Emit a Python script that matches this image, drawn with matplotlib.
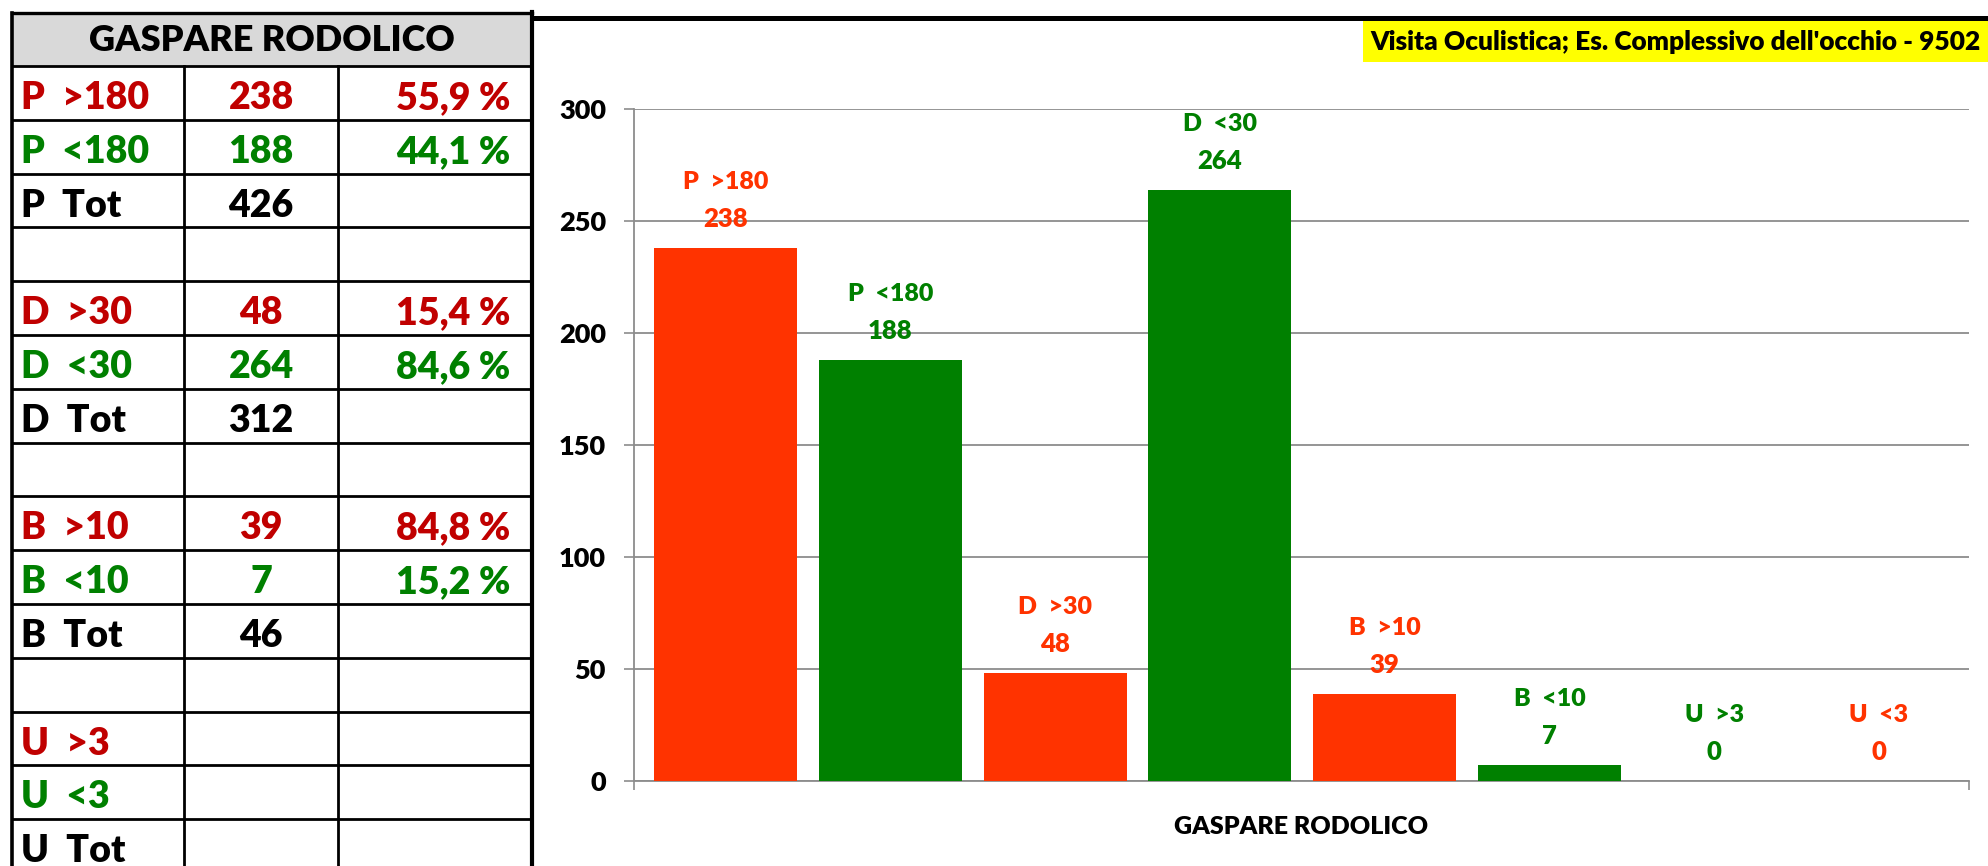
import matplotlib
matplotlib.use('Agg')
import matplotlib.pyplot as plt
from matplotlib.patches import Rectangle

plt.rcParams['font.family'] = ['Lato', 'DejaVu Sans']
plt.rcParams['font.weight'] = 'heavy'

W, H = 1988, 866
RED_T = '#C00000'
RED_B = '#FF3300'
GREEN = '#008000'
GRID = '#8C8C8C'

name = 'GASPARE RODOLICO'
title = "Visita Oculistica; Es. Complessivo dell'occhio - 9502"

# table on the left
row_labels = ['P  >180', 'P  <180', 'P  Tot', '', 'D  >30', 'D  <30', 'D  Tot', '',
              'B  >10', 'B  <10', 'B  Tot', '', 'U  >3', 'U  <3', 'U  Tot']
row_counts = ['238', '188', '426', '', '48', '264', '312', '', '39', '7', '46', '', '', '', '']
row_pcts = ['55,9 %', '44,1 %', '', '', '15,4 %', '84,6 %', '', '', '84,8 %', '15,2 %',
            '', '', '', '', '']
row_kind = ['hi', 'lo', 'tot', '', 'hi', 'lo', 'tot', '', 'hi', 'lo', 'tot', '', 'hi', 'lo', 'tot']

# bar chart
bar_labels = ['P  >180', 'P  <180', 'D  >30', 'D  <30', 'B  >10', 'B  <10', 'U  >3', 'U  <3']
bar_values = [238, 188, 48, 264, 39, 7, 0, 0]
bar_colors = [RED_B, GREEN, RED_B, GREEN, RED_B, GREEN, GREEN, RED_B]
y_ticks = [0, 50, 100, 150, 200, 250, 300]

kind_color = {'hi': RED_T, 'lo': GREEN, 'tot': 'black', '': 'black'}

fig = plt.figure(figsize=(W / 100, H / 100), dpi=100)

# overlay in pixel coords for the table and the frame
ov = fig.add_axes([0, 0, 1, 1])
ov.set_xlim(0, W)
ov.set_ylim(H, 0)
ov.axis('off')

x0, x1, x2, x3 = 12, 184, 338, 532
top, hdr_bot, rh = 13, 66, 53.8

ov.add_patch(Rectangle((x0, top), x3 - x0, hdr_bot - top, facecolor='#D9D9D9', edgecolor='none'))
ov.text((x0 + x3) / 2, (top + hdr_bot) / 2 + 1, name, ha='center', va='center', fontsize=26)

for i in range(len(row_labels) + 1):
    y = hdr_bot + rh * i
    ov.plot([x0, x3], [y, y], color='black', lw=2.0, solid_capstyle='butt')
ov.plot([x0, x3], [top, top], color='black', lw=2.4)
ov.plot([x0, x0], [top, H], color='black', lw=2.6)
ov.plot([x1, x1], [hdr_bot, H], color='black', lw=2.0)
ov.plot([x2, x2], [hdr_bot, H], color='black', lw=2.0)
ov.plot([x3, x3], [top - 1, H], color='black', lw=3.0)

for i, (lab, cnt, pct, kind) in enumerate(zip(row_labels, row_counts, row_pcts, row_kind)):
    yb = hdr_bot + rh * i + 43
    c = kind_color[kind]
    ov.text(x0 + 9, yb, lab, ha='left', va='baseline', fontsize=27, color=c)
    ov.text((x1 + x2) / 2, yb, cnt, ha='center', va='baseline', fontsize=27, color=c)
    ov.text(x3 - 22, yb, pct, ha='right', va='baseline', fontsize=27, color=c)

# chart frame and title box
ov.plot([x3, W], [17.5, 17.5], color='black', lw=3.6, solid_capstyle='butt')
ov.add_patch(Rectangle((1363, 21), W - 1363, 41, facecolor='#FFFF00', edgecolor='none'))
ov.text(1370, 42, title, ha='left', va='center', fontsize=18.9, color='black')

# the bars
ax = fig.add_axes([634 / W, 1 - 781 / H, (1969 - 634) / W, (781 - 109) / H])
xs = list(range(len(bar_values)))
ax.bar(xs, bar_values, width=0.868, color=bar_colors, zorder=3)
ax.set_xlim(-0.555, 7.546)
ax.set_ylim(0, 300)
ax.set_yticks(y_ticks)
ax.set_yticklabels([str(t) for t in y_ticks], fontsize=19.5)
ax.set_xticks([-0.555, 7.546])
ax.set_xticklabels(['', ''])
ax.tick_params(axis='y', length=7.2, width=1.2, color=GRID, pad=13)
ax.tick_params(axis='x', length=6.5, width=1.2, color=GRID)
ax.yaxis.grid(True, color=GRID, lw=1.3, zorder=0)
ax.set_axisbelow(True)
for s in ['top', 'right']:
    ax.spines[s].set_visible(False)
for s in ['left', 'bottom']:
    ax.spines[s].set_color(GRID)
    ax.spines[s].set_linewidth(1.3)

for x, v, lab, c in zip(xs, bar_values, bar_labels, bar_colors):
    ax.annotate(str(v), (x, v), xytext=(0, 29), textcoords='offset pixels',
                ha='center', va='center', fontsize=18.5, color=c, annotation_clip=False)
    ax.annotate(lab, (x, v), xytext=(0, 66), textcoords='offset pixels',
                ha='center', va='center', fontsize=18, color=c, annotation_clip=False)

ax.annotate(name, (0.5, 0), xycoords='axes fraction', xytext=(0, -46),
            textcoords='offset pixels', ha='center', va='center', fontsize=18)

fig.savefig('out.png', dpi=100)
